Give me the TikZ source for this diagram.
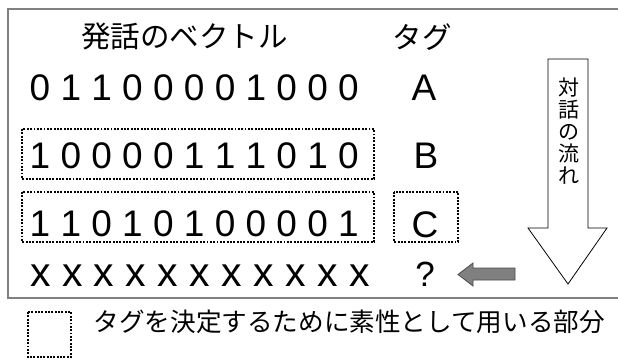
\documentclass[tikz,border=0pt]{standalone}
\usepackage{fontspec}
\setmainfont{Liberation Sans}
\newfontfamily\jp{Noto Sans CJK JP}
\begin{document}
\begin{tikzpicture}[x=1pt,y=-1pt,
  dotbox/.style={draw=black, line width=2pt, line cap=butt, dash pattern=on 1.9pt off 1.45pt},
  row/.style={anchor=west, inner sep=0pt, font=\fontsize{37}{40}\selectfont},
  tag/.style={anchor=center, inner sep=0pt, font=\fontsize{37}{40}\selectfont},
  jptxt/.style={inner sep=0pt, font=\jp\fontsize{29.5}{32}\selectfont},
  frame/.style={draw=black!50, line width=2pt}]
\useasboundingbox (0,0) rectangle (618,361);
\begin{scope}
\clip (0,0) rectangle (618,361);
\draw[frame] (625,9.5) -- (7.5,9.5) -- (7.5,298) -- (625,298);
\end{scope}
% headers
\node[jptxt] (hvec) at (184.5,36) {発話のベクトル};
\node[jptxt] (htag) at (422,37) {タグ};
% rows
\node[row] (r1) at (29.5,87.5) {0 1 1 0 0 0 0 1 0 0 0};
\node[row] (r2) at (29.5,156) {1 0 0 0 0 1 1 1 0 1 0};
\node[row] (r3) at (29.5,223.5) {1 1 0 1 0 1 0 0 0 0 1};
\node[row, font=\fontsize{41}{44}\selectfont] (r4) at (30,276) {x x x x x x x x x x x};
% tags
\node[tag] (ta) at (424,88) {A};
\node[tag] (tb) at (426,155.5) {B};
\node[tag] (tc) at (425,225) {C};
\node[tag, font=\fontsize{35}{38}\selectfont] (tq) at (425,274) {?};
% dotted boxes
\draw[dotbox] (22,129) rectangle (374,179);
\draw[dotbox] (22,192) rectangle (374,242);
\draw[dotbox] (394,192) rectangle (458,242);
% flow arrow
\draw[black, line width=0.8pt, fill=white, line join=miter]
  (548,59) -- (588,59) -- (588,228) -- (607,228) -- (568,284) -- (528,228) -- (548,228) -- cycle;
\node[inner sep=0pt, align=center, font=\jp\fontsize{21}{21.9}\selectfont] (flow) at (569,131) {対\\話\\の\\流\\れ};
% gray arrow
\draw[draw=black!70, fill=black!50, line width=0.8pt, line join=miter]
  (515,268) -- (473,268) -- (473,263) -- (458,274.5) -- (473,286) -- (473,280) -- (515,280) -- cycle;
% legend
\draw[dotbox] (28,312) rectangle (71,357);
\node[anchor=west, inner sep=0pt, font=\jp\fontsize{25.6}{28}\selectfont] (legend) at (93.5,322) {タグを決定するために素性として用いる部分};
\end{tikzpicture}
\end{document}
